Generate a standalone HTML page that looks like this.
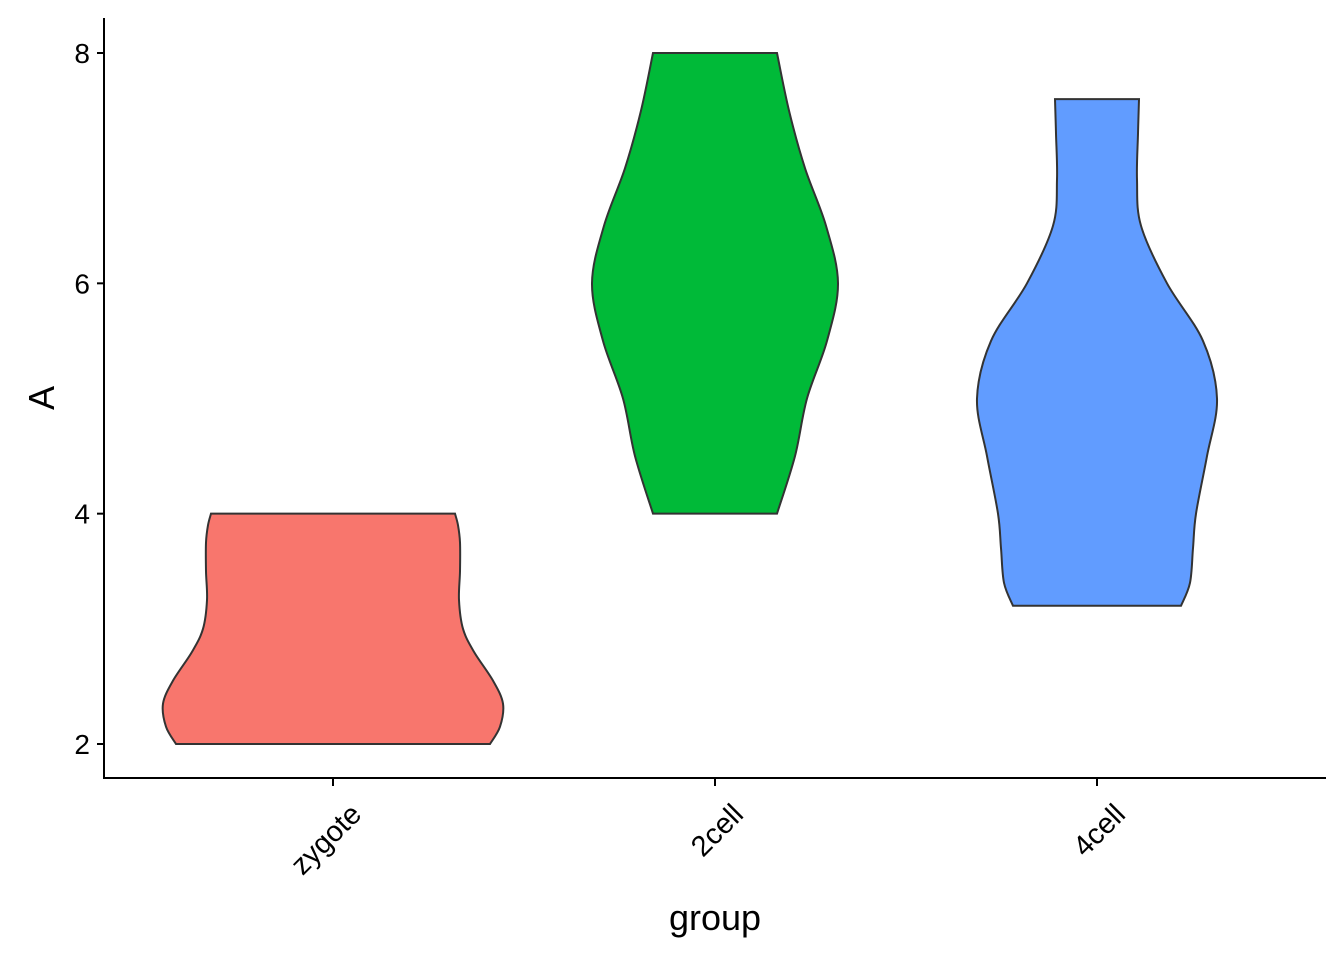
<!DOCTYPE html>
<html><head><meta charset="utf-8"><style>
html,body{margin:0;padding:0;background:#fff;}
svg{display:block;font-family:"Liberation Sans",Arial,sans-serif;}
</style></head><body>
<svg id="chart" width="1344" height="960" viewBox="0 0 1344 960" xmlns="http://www.w3.org/2000/svg"></svg>
<script>
const categories = ["zygote","2cell","4cell"];
const colors = ["#F8766D","#00BA38","#619CFF"];
const yTicks = [2,4,6,8];
// density profiles: [value, relative half-width]
const zygoteProfile = [[2.0,157],[2.15,167],[2.35,170],[2.55,160],[2.8,141],[3.0,130],[3.25,126],[3.5,127],[3.75,127],[3.9,125],[4.0,122]];
const cell2Profile = [[4.0,62],[4.5,80],[5.0,92],[5.5,112],[6.0,123],[6.5,111],[7.0,90],[7.5,74],[8.0,62]];
const cell4Profile = [[3.2,84],[3.4,93],[3.7,96],[4.0,99],[4.5,110],[5.0,120],[5.5,106],[6.0,70],[6.5,44],[6.9,40],[7.3,41],[7.6,42]];
const profiles = [zygoteProfile, cell2Profile, cell4Profile];

const svg = document.getElementById('chart');
const NS = 'http://www.w3.org/2000/svg';
const plot = {left:104, right:1326, top:18, bottom:778};
function y(v){ return 744 - (v-2)*(744-53)/6; }
function x(i){ return 333 + i*382; }
function mk(tag, attrs, parent){ const e=document.createElementNS(NS,tag); for(const k in attrs) e.setAttribute(k,attrs[k]); (parent||svg).appendChild(e); return e; }

function smooth(pts){
  let d = '';
  for(let i=0;i<pts.length-1;i++){
    const p0=pts[Math.max(0,i-1)],p1=pts[i],p2=pts[i+1],p3=pts[Math.min(pts.length-1,i+2)];
    const c1=[p1[0]+(p2[0]-p0[0])/6,p1[1]+(p2[1]-p0[1])/6];
    const c2=[p2[0]-(p3[0]-p1[0])/6,p2[1]-(p3[1]-p1[1])/6];
    d += ` C${c1[0]},${c1[1]} ${c2[0]},${c2[1]} ${p2[0]},${p2[1]}`;
  }
  return d;
}

profiles.forEach((prof,i)=>{
  const cx = x(i);
  const right = prof.map(p=>[cx+p[1], y(p[0])]);
  const left = prof.slice().reverse().map(p=>[cx-p[1], y(p[0])]);
  let d = `M${right[0][0]},${right[0][1]}` + smooth(right) + ` L${left[0][0]},${left[0][1]}` + smooth(left) + ' Z';
  const p = mk('path',{d:d, fill:colors[i], stroke:'#333', 'stroke-width':2});
  
  
});

// axes
const ax = mk('line',{x1:plot.left,y1:plot.top,x2:plot.left,y2:plot.bottom,stroke:'#000','stroke-width':2});


const bx = mk('line',{x1:plot.left-1,y1:plot.bottom,x2:plot.right,y2:plot.bottom,stroke:'#000','stroke-width':2});



yTicks.forEach(t=>{
  const l = mk('line',{x1:plot.left-7,y1:y(t),x2:plot.left,y2:y(t),stroke:'#000','stroke-width':2});
  
  
  const tx = mk('text',{x:plot.left-14,y:y(t)+10,'text-anchor':'end','font-size':28,fill:'#000'});
  tx.textContent = t;
  
  
});
categories.forEach((c,i)=>{
  const l = mk('line',{x1:x(i),y1:plot.bottom,x2:x(i),y2:plot.bottom+8,stroke:'#000','stroke-width':2});
  
  
  const ex = x(i)+30, ey = plot.bottom+38;
  const tx = mk('text',{x:ex,y:ey,'text-anchor':'end','font-size':29,fill:'#000',transform:`rotate(-45 ${ex} ${ey})`});
  tx.textContent = c;
  
  
});
const xt = mk('text',{x:715,y:930,'text-anchor':'middle','font-size':36,fill:'#000'});
xt.textContent='group';


const yt = mk('text',{x:54,y:398,'text-anchor':'middle','font-size':36,fill:'#000',transform:'rotate(-90 54 398)'});
yt.textContent='A';


</script>
</body></html>
